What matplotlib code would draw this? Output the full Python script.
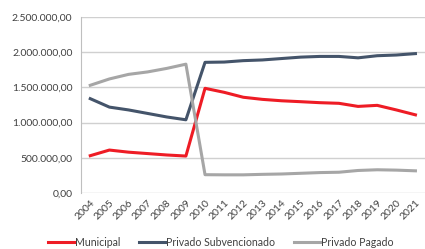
import matplotlib
matplotlib.use("Agg")
import matplotlib.pyplot as plt
from matplotlib.ticker import FuncFormatter

years = [str(y) for y in range(2004, 2022)]
municipal = [530000, 610000, 580000, 560000, 540000, 525000, 1487000, 1430000, 1360000, 1330000,
             1310000, 1297000, 1283000, 1274000, 1230000, 1245000, 1180000, 1110000]
subvencionado = [1340000, 1220000, 1180000, 1130000, 1080000, 1040000, 1856000, 1860000, 1880000,
                 1890000, 1910000, 1930000, 1940000, 1940000, 1920000, 1950000, 1960000, 1980000]
pagado = [1530000, 1620000, 1685000, 1720000, 1770000, 1830000, 260000, 258000, 258000, 265000,
          270000, 280000, 290000, 295000, 320000, 330000, 325000, 315000]

plt.rcParams['font.family'] = ['Lato', 'DejaVu Sans']

fig = plt.figure(figsize=(4.25, 2.49), dpi=100)
ax = fig.add_axes([80.7/425, 1-193/249, (425-80.7)/425, 176/249])

x = list(range(len(years)))
ax.plot(x, municipal, color='#EE1C25', lw=2.2, label='Municipal')
ax.plot(x, subvencionado, color='#44546A', lw=2.2, label='Privado Subvencionado')
ax.plot(x, pagado, color='#A6A6A6', lw=2.2, label='Privado Pagado')

ax.set_xlim(-0.5, 17.5)
ax.set_ylim(0, 2500000)
ax.set_yticks([0, 500000, 1000000, 1500000, 2000000, 2500000])

def fmt(v, p):
    s = f"{int(round(v)):,}".replace(",", ".")
    return s + ",00"
ax.yaxis.set_major_formatter(FuncFormatter(fmt))
ax.set_xticks(x)
ax.set_xticklabels(years, rotation=45, ha='right', va='top', rotation_mode='anchor')
ax.tick_params(axis='both', length=0, labelsize=7.5, colors='#404040')
ax.tick_params(axis='x', pad=4)
ax.tick_params(axis='y', pad=6)
ax.grid(axis='y', color='#D0D0D0', lw=1)
ax.set_axisbelow(True)
for s in ['top', 'right', 'bottom']:
    ax.spines[s].set_visible(False)
ax.spines['left'].set_color('#BFBFBF')

leg = fig.legend(loc='center', bbox_to_anchor=(0.52, 0.028), ncol=3, frameon=False,
                 fontsize=7.6, handlelength=2.4, handletextpad=0.15, columnspacing=1.8,
                 labelcolor='#404040', borderpad=0)
fig.savefig('out.png', dpi=100)
